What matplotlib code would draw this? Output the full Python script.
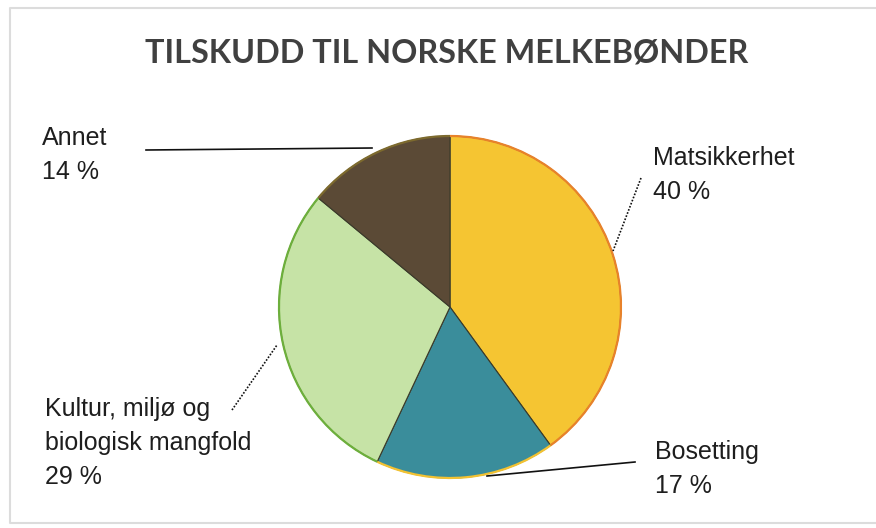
import matplotlib.pyplot as plt
from matplotlib.patches import Arc

# --- Tilskudd til norske melkebønder ---
labels = ['Matsikkerhet', 'Bosetting', 'Kultur, miljø og\nbiologisk mangfold', 'Annet']
shares = [40, 17, 29, 14]
colors = ['#F5C532', '#3A8D9B', '#C6E3A6', '#5B4A36']
rim_colors = ['#E8822A', '#F2C232', '#6DAF3C', '#7D6A2E']
title = 'TILSKUDD TIL NORSKE MELKEBØNDER'

W, H = 876, 528


def px(x, y):
    # pixel coords (origin top-left) -> data coords
    return x, H - y


fig = plt.figure(figsize=(W / 100, H / 100), dpi=100)
ax = fig.add_axes([0, 0, 1, 1])

# frame
ax.plot([W, 10, 10, W], [H - 8, H - 8, H - 523, H - 523], color='#dcdcdc', lw=1.5)

center = px(450, 307)
radius = 171
wedges, _ = ax.pie(shares, colors=colors, startangle=90, counterclock=False,
                   center=center, radius=radius, frame=True,
                   wedgeprops=dict(linewidth=0.8, edgecolor='#3a3a2a'))
ax.set_xlim(0, W)
ax.set_ylim(0, H)
ax.set_aspect('equal')
ax.axis('off')

# coloured outer rims
for w, rc in zip(wedges, rim_colors):
    ax.add_patch(Arc(center, 2 * radius, 2 * radius, theta1=w.theta1, theta2=w.theta2,
                     color=rc, lw=1.6))

txt = dict(fontsize=18, color='#1e1e1e', family=['Liberation Sans', 'DejaVu Sans'],
           ha='left', va='top', linespacing=1.52)
# label anchor (top-left) in pixels, same order as labels
pos = [(653, 146), (655, 440), (45, 397), (42, 126)]
for lab, s, (x, y) in zip(labels, shares, pos):
    ax.text(*px(x, y), f'{lab}\n{s} %', **txt)

# leader lines
leaders = [([641, 613], [178, 251], (0, (1, 1))),
           ([487, 635], [476, 462], '-'),
           ([232, 277], [410, 345], (0, (1, 1))),
           ([146, 372], [150, 148], '-')]
for xs, ys, ls in leaders:
    ax.plot(xs, [H - y for y in ys], color='#111111', lw=1.2, linestyle=ls)

ax.text(*px(447, 53), title, ha='center', va='center', fontsize=23.3, fontweight='bold',
        color='#404040', family=['Lato', 'DejaVu Sans'])

fig.savefig('out.png', dpi=100, facecolor='white')
